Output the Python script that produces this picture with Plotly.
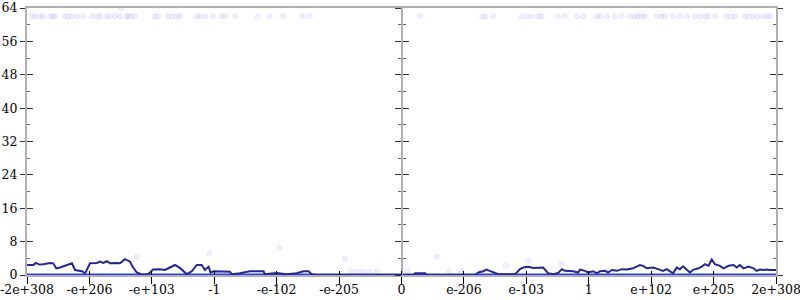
import plotly.graph_objects as go

# x positions are in "tick units": -6 .. 6, one unit per labelled tick
tick_pos = [-6, -5, -4, -3, -2, -1, 0, 1, 2, 3, 4, 5, 6]
tick_text = ["-2e+308", "-e+206", "-e+103", "-1", "-e-102", "-e-205", "0",
             "e-206", "e-103", "1", "e+102", "e+205", "2e+308"]

# main dark line
line_x = [-6.00, -5.90, -5.86, -5.80, -5.74, -5.63, -5.58, -5.53, -5.47, -5.39,
          -5.28, -5.23, -5.12, -5.07, -4.99, -4.88, -4.83, -4.78, -4.72, -4.67,
          -4.59, -4.51, -4.43, -4.35, -4.30, -4.24, -4.16, -4.06, -3.98, -3.87,
          -3.79, -3.71, -3.63, -3.55, -3.44, -3.36, -3.28, -3.20, -3.15, -3.09,
          -3.06, -3.01, -2.75, -2.72, -2.59, -2.43, -2.21, -2.19, -2.00, -1.84,
          -1.68, -1.57, -1.49, -1.44, -1.36, -0.02,
          0.19, 0.22, 0.38, 0.40, 1.18, 1.23, 1.31, 1.36, 1.42, 1.47,
          1.55, 1.82, 1.90, 1.95, 2.03, 2.11, 2.19, 2.27, 2.35, 2.43,
          2.51, 2.57, 2.62, 2.75, 2.83, 2.86, 2.94, 2.99, 3.07, 3.13,
          3.18, 3.26, 3.31, 3.37, 3.45, 3.53, 3.61, 3.71, 3.82, 3.87,
          3.93, 4.03, 4.11, 4.19, 4.25, 4.30, 4.35, 4.41, 4.46, 4.51,
          4.57, 4.62, 4.68, 4.76, 4.81, 4.86, 4.92, 4.97, 5.02, 5.10,
          5.16, 5.24, 5.32, 5.37, 5.42, 5.48, 5.56, 5.64, 5.69, 5.74,
          5.80, 5.85, 5.90, 6.00]
line_y = [2.4, 2.4, 2.9, 2.5, 2.6, 2.9, 2.8, 1.6, 1.8, 2.2,
          2.8, 1.2, 0.9, 0.4, 2.8, 2.9, 3.2, 2.9, 3.3, 2.8,
          2.9, 2.8, 3.8, 3.2, 1.8, 0.6, 0.1, 0.2, 1.3, 1.4,
          1.2, 1.8, 2.4, 1.7, 0.2, 0.9, 2.4, 2.4, 1.2, 2.0,
          0.6, 0.9, 0.8, 0.2, 0.4, 0.9, 0.9, 0.2, 0.5, 0.2,
          0.4, 0.9, 0.9, 0.2, 0.0, 0.0,
          0.0, 0.4, 0.4, 0.0, 0.0, 0.6, 0.9, 1.3, 0.9, 0.6,
          0.2, 0.2, 1.4, 1.8, 2.0, 1.7, 1.8, 1.8, 0.4, 0.2,
          0.5, 1.4, 1.0, 0.9, 0.6, 1.3, 1.0, 0.6, 0.9, 0.4,
          0.9, 1.0, 0.6, 1.2, 1.0, 1.4, 1.3, 1.6, 2.4, 2.2,
          1.6, 1.8, 1.4, 1.0, 1.4, 1.0, 0.4, 1.8, 1.4, 2.1,
          1.3, 0.6, 1.3, 1.6, 2.0, 2.6, 2.2, 3.7, 2.6, 2.2,
          1.6, 2.2, 2.4, 1.8, 2.4, 1.6, 2.0, 1.6, 1.0, 1.3,
          1.2, 1.3, 1.2, 1.2]

# bright base series at zero
base_x = [-6, 6]
base_y = [0, 0]

# faint dots near the top
top_x = [-5.92, -5.87, -5.79, -5.74, -5.63, -5.58, -5.55, -5.39, -5.34, -5.28,
         -5.20, -5.10, -4.96, -4.88, -4.83, -4.72, -4.67, -4.59, -4.51, -4.40,
         -4.38, -4.32, -4.27, -3.95, -3.90, -3.74, -3.68, -3.60, -3.55, -3.28,
         -3.23, -3.15, -3.02, -2.88, -2.83, -2.67, -2.30, -2.11, -1.90, -1.58,
         -1.47,
         0.30, 1.29, 1.34, 1.47, 1.93, 2.02, 2.09, 2.19, 2.25, 2.51,
         2.62, 2.81, 2.91, 3.13, 3.18, 3.29, 3.42, 3.53, 3.66, 3.74,
         3.79, 3.85, 3.90, 4.09, 4.17, 4.22, 4.35, 4.46, 4.57, 4.70,
         4.78, 4.86, 4.91, 5.02, 5.21, 5.29, 5.34, 5.50, 5.55, 5.63,
         5.70, 5.79, 5.86, 5.90]
top_y = [62.0] * len(top_x)

# other faint scattered dots
low_x = [-4.49, -4.24, -3.08, -1.95, -0.91, -0.80, -0.70, -0.62, -0.52, -0.40,
         0.57, 1.67, 2.03, 2.57, 0.10, 0.75, 0.95]
low_y = [64.0, 4.4, 5.1, 6.5, 3.9, 0.8, 0.8, 0.8, 0.8, 0.8,
         4.4, 2.2, 3.4, 2.7, 0.8, 0.8, 0.8]

fig = go.Figure()

dot_marker = dict(size=5, color="rgba(190,190,255,0.22)",
                  line=dict(width=1, color="rgba(150,150,240,0.18)"))
fig.add_trace(go.Scatter(x=top_x, y=top_y, mode="markers", marker=dot_marker,
                         hoverinfo="skip", showlegend=False))
fig.add_trace(go.Scatter(x=low_x, y=low_y, mode="markers", marker=dot_marker,
                         hoverinfo="skip", showlegend=False))
fig.add_trace(go.Scatter(x=base_x, y=base_y, mode="lines",
                         line=dict(color="#2f3fe0", width=3),
                         hoverinfo="skip", showlegend=False))
fig.add_trace(go.Scatter(x=line_x, y=line_y, mode="lines",
                         line=dict(color="#26268f", width=2),
                         hoverinfo="skip", showlegend=False))

# invisible helpers to register extra axes
for xa, ya in [("x2", "y"), ("x", "y2"), ("x", "y3"), ("x", "y4")]:
    fig.add_trace(go.Scatter(x=[0], y=[0], xaxis=xa, yaxis=ya, mode="markers",
                             marker=dict(opacity=0), hoverinfo="skip",
                             showlegend=False))

font = dict(family="DejaVu Serif", size=12.5, color="#000")
yr = [0, 64]
xr = [-6, 6]

fig.update_layout(
    width=800, height=300,
    margin=dict(l=27, r=24, t=8, b=25, autoexpand=False),
    paper_bgcolor="white", plot_bgcolor="white",
    font=font,
    xaxis=dict(range=xr, tickvals=tick_pos, ticktext=tick_text,
               ticks="outside", ticklen=7, tickwidth=1, tickcolor="#000",
               showline=True, linecolor="#b0b0b0", linewidth=2, mirror=True,
               showgrid=False, zeroline=False, tickfont=font,
               automargin=False, ticklabeloverflow="allow",
               ticklabelstandoff=-5),
    xaxis2=dict(range=xr, overlaying="x", side="bottom", tickvals=tick_pos,
                ticks="inside", ticklen=4, tickwidth=1, tickcolor="#000",
                showticklabels=False, showline=False, showgrid=False,
                zeroline=False, automargin=False),
    yaxis=dict(range=yr, dtick=8, tick0=0, ticks="outside", ticklen=5,
               tickwidth=1, tickcolor="#333", mirror="ticks",
               showline=True, linecolor="#b0b0b0", linewidth=2,
               showgrid=False, zeroline=False, tickfont=font,
               automargin=False, ticklabeloverflow="allow"),
    yaxis2=dict(range=yr, overlaying="y", side="left", dtick=8, tick0=0,
                ticks="inside", ticklen=6, tickwidth=1, tickcolor="#333",
                mirror="ticks", showticklabels=False, showline=False,
                showgrid=False, zeroline=False, automargin=False,
                minor=dict(dtick=4, tick0=0, ticks="inside", ticklen=3,
                           tickwidth=1, tickcolor="#666", showgrid=False)),
    yaxis3=dict(range=yr, overlaying="y", anchor="free", position=0.5,
                side="left", dtick=8, tick0=0, ticks="outside", ticklen=6,
                tickwidth=1, tickcolor="#333", showticklabels=False,
                showline=True, linecolor="#b0b0b0", linewidth=2,
                showgrid=False, zeroline=False, automargin=False,
                minor=dict(dtick=4, tick0=0, ticks="outside", ticklen=3,
                           tickwidth=1, tickcolor="#666", showgrid=False)),
    yaxis4=dict(range=yr, overlaying="y", anchor="free", position=0.5,
                side="left", dtick=8, tick0=0, ticks="inside", ticklen=6,
                tickwidth=1, tickcolor="#333", showticklabels=False,
                showline=False, showgrid=False, zeroline=False,
                automargin=False,
                minor=dict(dtick=4, tick0=0, ticks="inside", ticklen=3,
                           tickwidth=1, tickcolor="#666", showgrid=False)),
)

fig.write_html("out.html")
